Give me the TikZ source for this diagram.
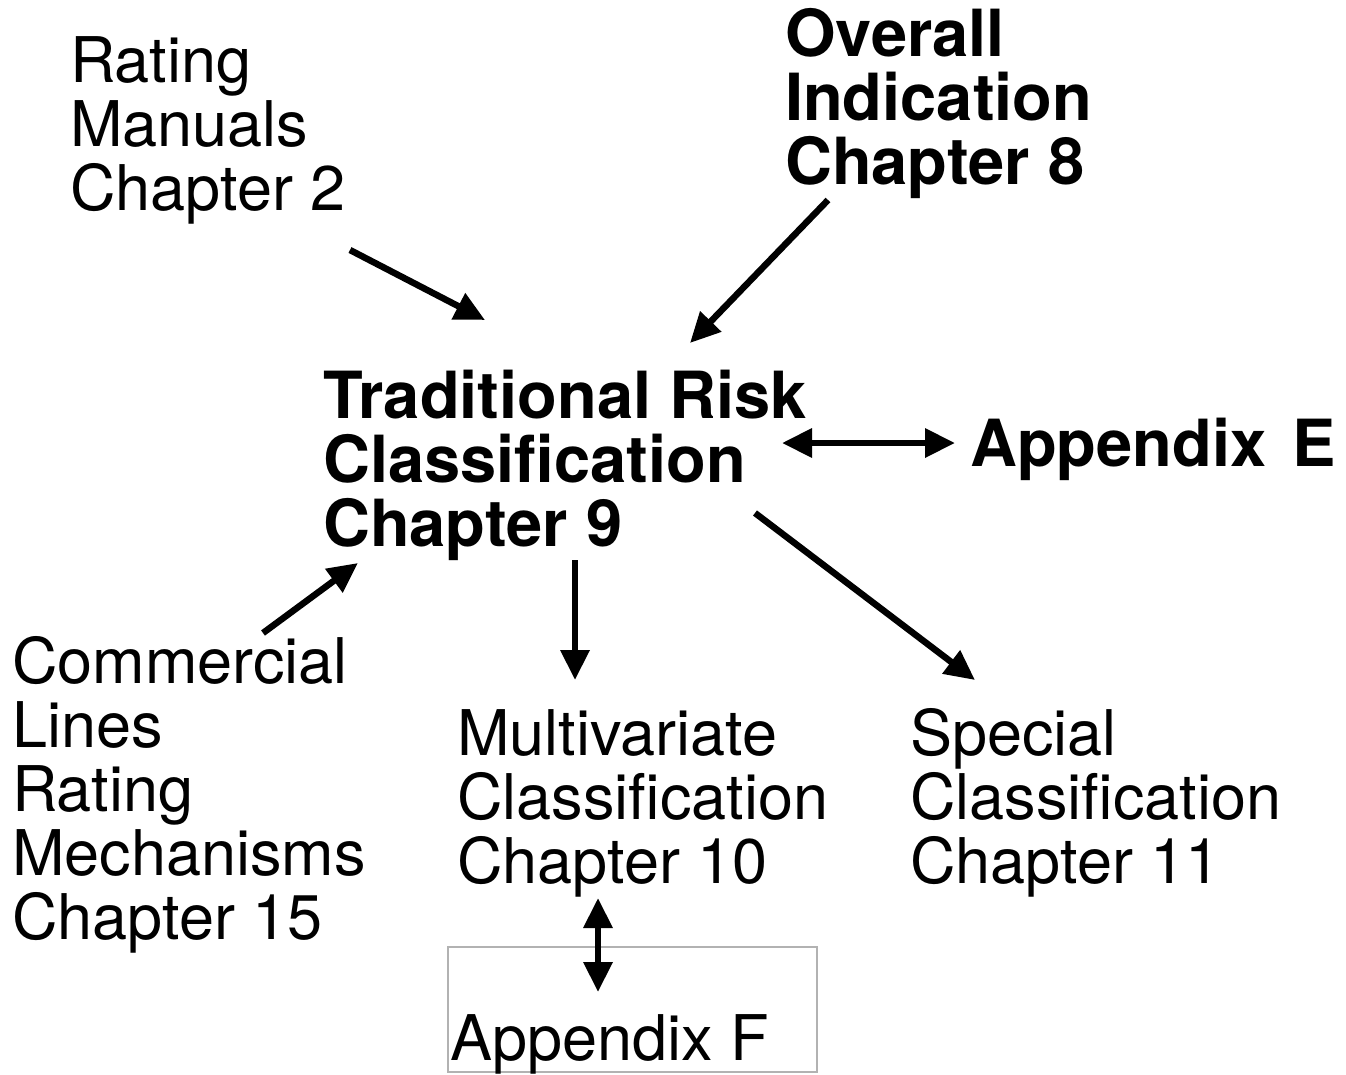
\documentclass[tikz,border=0pt]{standalone}
\usepackage{fontspec}
\setmainfont{TeX Gyre Heros}
\usetikzlibrary{arrows.meta}
\begin{document}
\begin{tikzpicture}[x=1pt,y=-1pt,
  lbl/.style={anchor=base west,inner sep=0pt,align=left,font=\fontsize{63}{64}\selectfont},
  blbl/.style={lbl,font=\fontsize{65}{64}\selectfont\bfseries},
  arr/.style={line width=6.5pt,-{Triangle[length=30pt,width=28pt]}},
  darr/.style={line width=6.5pt,{Triangle[length=30pt,width=28pt]}-{Triangle[length=30pt,width=28pt]}}]
\useasboundingbox (0,0) rectangle (1346,1074);
\node[lbl] (rating) at (70,210) {Rating\\Manuals\\Chapter 2};
\node[blbl] (overall) at (785,184) {Overall\\Indication\\Chapter 8};
\node[blbl] (trad) at (323,546) {Traditional Risk\\Classification\\Chapter 9};
\node[blbl] (appE) at (970,466) {Appendix\hspace{8pt} E};
\node[lbl] (comm) at (12,939) {Commercial\\Lines\\Rating\\Mechanisms\\Chapter 15};
\node[lbl] (multi) at (457,883) {Multivariate\\Classification\\Chapter 10};
\node[lbl] (special) at (910,883) {Special\\Classification\\Chapter 11};
\draw[gray!60,line width=2pt] (448,947) rectangle (817,1072);
\node[lbl] (appF) at (450,1060) {Appendix F};
\coordinate (r1) at (350,250); \coordinate (r2) at (485,320);
\coordinate (o1) at (828,200); \coordinate (o2) at (690,343);
\coordinate (e1) at (782,443); \coordinate (e2) at (955,443);
\coordinate (c1) at (263,633); \coordinate (c2) at (358,563);
\coordinate (m1) at (575,560); \coordinate (m2) at (575,680);
\coordinate (s1) at (755,513); \coordinate (s2) at (975,680);
\coordinate (f1) at (598,898); \coordinate (f2) at (598,992);
\draw[arr] (r1) -- (r2);
\draw[arr] (o1) -- (o2);
\draw[darr] (e1) -- (e2);
\draw[arr] (c1) -- (c2);
\draw[arr] (m1) -- (m2);
\draw[arr] (s1) -- (s2);
\draw[darr] (f1) -- (f2);
\end{tikzpicture}
\end{document}
